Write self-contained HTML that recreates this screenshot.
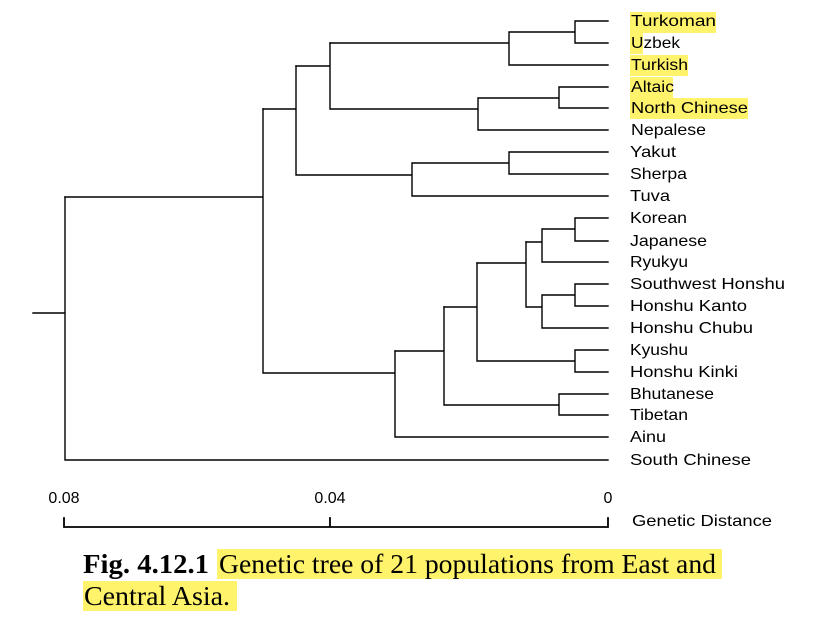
<!DOCTYPE html>
<html><head><meta charset="utf-8"><style>
html,body{margin:0;padding:0;background:#fff;}
svg{display:block}
.l{font-family:"Liberation Sans",Arial,sans-serif;font-size:16px;fill:#000}
.c{font-family:"Liberation Serif","Times New Roman",serif;font-size:27px;fill:#000}
</style></head><body>
<svg width="817" height="627" viewBox="0 0 817 627" xmlns="http://www.w3.org/2000/svg">
<rect width="817" height="627" fill="#fff"/>
<g fill="#fff36b">
<rect x="630" y="12" width="86" height="21"/>
<rect x="630" y="33" width="13" height="21"/>
<rect x="630" y="55" width="58" height="21"/>
<rect x="630" y="77" width="43" height="21"/>
<rect x="630" y="98" width="118" height="21"/>
<rect x="217" y="549" width="505" height="30"/>
<rect x="83" y="581" width="154" height="30"/>
</g>
<g stroke="#000" stroke-width="1.4" fill="none" stroke-linecap="square">
<path d="M608 21H575V43H608 M575 32H509 M608 65H509V32 M509 43H330"/>
<path d="M608 87H559V108H608 M559 98H478 M608 130H478V98 M478 109H330 M330 43V109 M330 66H296"/>
<path d="M608 152H509V174H608 M509 163H412 M608 196H412V163 M412 175H296 M296 66V175 M296 109H263"/>
<path d="M608 218H575V241H608 M575 229H542 M608 262H542V229 M542 242H526"/>
<path d="M608 284H575V306H608 M575 295H542 M608 328H542V295 M542 307H526 M526 242V307 M526 263H477"/>
<path d="M608 350H575V372H608 M575 361H477 M477 263V361 M477 307H444"/>
<path d="M608 394H559V415H608 M559 405H444 M444 307V405 M444 351H395"/>
<path d="M608 437H395V351 M395 373H263 M263 109V373 M263 197H65"/>
<path d="M608 460H65V197 M65 313H33"/>
<path d="M64 518V527H608V518 M330 518V527" stroke-width="1.8"/>
</g>
<g class="l">
<text x="631" y="26" textLength="85" lengthAdjust="spacingAndGlyphs">Turkoman</text>
<text x="631" y="48" textLength="49" lengthAdjust="spacingAndGlyphs">Uzbek</text>
<text x="631" y="70" textLength="57" lengthAdjust="spacingAndGlyphs">Turkish</text>
<text x="631" y="92" textLength="43" lengthAdjust="spacingAndGlyphs">Altaic</text>
<text x="631" y="113" textLength="117" lengthAdjust="spacingAndGlyphs">North  Chinese</text>
<text x="631" y="135" textLength="75" lengthAdjust="spacingAndGlyphs">Nepalese</text>
<text x="630" y="157" textLength="46" lengthAdjust="spacingAndGlyphs">Yakut</text>
<text x="630" y="179" textLength="57" lengthAdjust="spacingAndGlyphs">Sherpa</text>
<text x="630" y="201" textLength="40" lengthAdjust="spacingAndGlyphs">Tuva</text>
<text x="630" y="223" textLength="57" lengthAdjust="spacingAndGlyphs">Korean</text>
<text x="630" y="246" textLength="77" lengthAdjust="spacingAndGlyphs">Japanese</text>
<text x="630" y="267" textLength="58" lengthAdjust="spacingAndGlyphs">Ryukyu</text>
<text x="630" y="289" textLength="155" lengthAdjust="spacingAndGlyphs">Southwest  Honshu</text>
<text x="630" y="311" textLength="117" lengthAdjust="spacingAndGlyphs">Honshu  Kanto</text>
<text x="630" y="333" textLength="123" lengthAdjust="spacingAndGlyphs">Honshu  Chubu</text>
<text x="630" y="355" textLength="58" lengthAdjust="spacingAndGlyphs">Kyushu</text>
<text x="630" y="377" textLength="108" lengthAdjust="spacingAndGlyphs">Honshu  Kinki</text>
<text x="630" y="399" textLength="84" lengthAdjust="spacingAndGlyphs">Bhutanese</text>
<text x="630" y="420" textLength="58" lengthAdjust="spacingAndGlyphs">Tibetan</text>
<text x="630" y="442" textLength="36" lengthAdjust="spacingAndGlyphs">Ainu</text>
<text x="630" y="465" textLength="121" lengthAdjust="spacingAndGlyphs">South  Chinese</text>
<text x="64" y="503" text-anchor="middle">0.08</text>
<text x="330" y="503" text-anchor="middle">0.04</text>
<text x="608" y="503" text-anchor="middle">0</text>
<text x="632" y="526" textLength="140" lengthAdjust="spacingAndGlyphs">Genetic  Distance</text>
</g>
<text class="c" x="83" y="573" font-weight="bold" textLength="126" lengthAdjust="spacingAndGlyphs">Fig. 4.12.1</text>
<text class="c" x="219" y="573" textLength="497" lengthAdjust="spacingAndGlyphs">Genetic tree of 21 populations from East and</text>
<text class="c" x="84" y="605" textLength="146" lengthAdjust="spacingAndGlyphs">Central Asia.</text>
</svg>
</body></html>
